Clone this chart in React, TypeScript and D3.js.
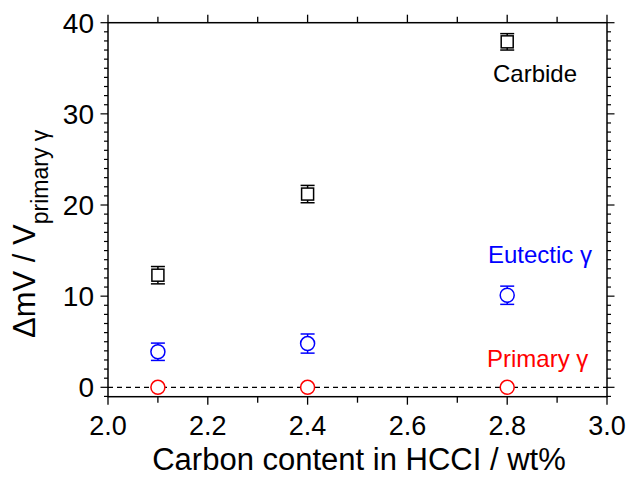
import React from "react";
import * as d3 from "d3";

const xValues = [2.1, 2.4, 2.8];
const carbide = [12.3, 21.2, 37.9];
const carbideErr = [0.95, 0.95, 0.9];
const eutectic = [3.9, 4.8, 10.1];
const eutecticErr = [0.95, 1.05, 1.0];
const primary = [0, 0, 0];
const xTickLabels = [2.0, 2.2, 2.4, 2.6, 2.8, 3.0];
const yTickLabels = [0, 10, 20, 30, 40];

const W = 628;
const H = 477;
const left = 108;
const right = 607;
const top = 22.7;
const bottom = 396.7;
const FONT = "'Liberation Sans', Arial, Helvetica, sans-serif";

export default function App() {
  const x = d3.scaleLinear().domain([2, 3]).range([left, right]);
  const y = d3.scaleLinear().domain([-1.03, 40]).range([bottom, top]);

  const xMinor = d3.range(0, 11).map((i) => 2 + i * 0.1);
  const yMinor = d3.range(-1, 41);

  const sq = 12;
  const r = 7;
  const cap = 7;

  const errBar = (xv: number, yv: number, e: number, color: string, key: string) => (
    <g key={key} stroke={color} strokeWidth={1.5} fill="none">
      <line x1={x(xv)} x2={x(xv)} y1={y(yv + e)} y2={y(yv - e)} />
      <line x1={x(xv) - cap} x2={x(xv) + cap} y1={y(yv + e)} y2={y(yv + e)} />
      <line x1={x(xv) - cap} x2={x(xv) + cap} y1={y(yv - e)} y2={y(yv - e)} />
    </g>
  );

  return (
    <svg width={W} height={H} style={{ position: "absolute", left: 0, top: 0, background: "#fff" }}>
      <rect x={0} y={0} width={W} height={H} fill="#fff" />
      {/* zero dashed line */}
      <line x1={left} x2={right} y1={y(0)} y2={y(0)} stroke="#000" strokeWidth={1.2} strokeDasharray="5,4" />

      {/* frame */}
      <rect x={left} y={top} width={right - left} height={bottom - top} fill="none" stroke="#000" strokeWidth={1.5} />

      {/* x ticks */}
      {xMinor.map((v, i) => {
        const major = i % 2 === 0;
        const len = major ? 8 : 6;
        return (
          <g key={"xt" + i} stroke="#000" strokeWidth={1.3}>
            <line x1={x(v)} x2={x(v)} y1={bottom} y2={bottom + len} />
            <line x1={x(v)} x2={x(v)} y1={top} y2={top - len} />
          </g>
        );
      })}
      {/* y ticks */}
      {yMinor.map((v) => {
        const major = v % 10 === 0;
        const len = major ? 7.5 : 4;
        return (
          <g key={"yt" + v} stroke="#000" strokeWidth={1.2}>
            <line x1={left} x2={left - len} y1={y(v)} y2={y(v)} />
            <line x1={right} x2={right + len} y1={y(v)} y2={y(v)} />
          </g>
        );
      })}

      {/* tick labels */}
      {xTickLabels.map((v) => (
        <text key={"xl" + v} x={x(v)} y={435} textAnchor="middle" fontFamily={FONT} fontSize={27} fill="#000">
          {d3.format(".1f")(v)}
        </text>
      ))}
      {yTickLabels.map((v) => (
        <text key={"yl" + v} x={94} y={y(v) + 10} textAnchor="end" fontFamily={FONT} fontSize={28} fill="#000">
          {v}
        </text>
      ))}

      {/* axis titles */}
      <text x={359} y={470} textAnchor="middle" fontFamily={FONT} fontSize={31} fill="#000">
        Carbon content in HCCI / wt%
      </text>
      <text transform="translate(35, 338) rotate(-90)" fontFamily={FONT} fontSize={31} fill="#000">
        ΔmV / V
        <tspan fontSize={23} dy={13}>primary γ</tspan>
      </text>

      {/* series */}
      {xValues.map((xv, i) => errBar(xv, carbide[i], carbideErr[i], "#000", "ce" + i))}
      {xValues.map((xv, i) => (
        <rect key={"c" + i} x={x(xv) - sq / 2} y={y(carbide[i]) - sq / 2} width={sq} height={sq} fill="#fff" stroke="#000" strokeWidth={1.5} />
      ))}
      {xValues.map((xv, i) => errBar(xv, eutectic[i], eutecticErr[i], "#0000ff", "ee" + i))}
      {xValues.map((xv, i) => (
        <circle key={"e" + i} cx={x(xv)} cy={y(eutectic[i])} r={r} fill="#fff" stroke="#0000ff" strokeWidth={1.5} />
      ))}
      {xValues.map((xv, i) => (
        <circle key={"p" + i} cx={x(xv)} cy={y(primary[i])} r={r} fill="#fff" stroke="#ff0000" strokeWidth={1.5} />
      ))}

      {/* labels */}
      <text x={493} y={82} fontFamily={FONT} fontSize={24} fill="#000">Carbide</text>
      <text x={488} y={263} fontFamily={FONT} fontSize={24} fill="#0000ff">Eutectic γ</text>
      <text x={487} y={367} fontFamily={FONT} fontSize={24} fill="#ff0000">Primary γ</text>
    </svg>
  );
}
